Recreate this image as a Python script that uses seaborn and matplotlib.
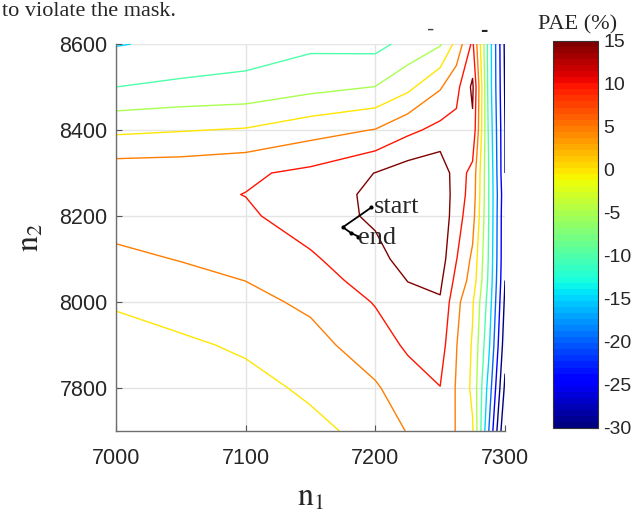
import matplotlib
matplotlib.use("Agg")
import matplotlib.pyplot as plt
import numpy as np
import seaborn as sns
from matplotlib.colors import Normalize
from matplotlib.cm import ScalarMappable

# grid of the PAE map
n1_grid = [7000, 7050, 7100, 7150, 7200, 7225, 7250, 7262.5, 7275, 7287.5, 7300]
n2_grid = [7700, 7800, 7900, 8000, 8050, 8100, 8200, 8250, 8300, 8400, 8500, 8600]

# PAE (%) values, one row per n2, one column per n1
pae = [
    [-3.5, -3.0, -2.5, -1.2, 1.5, 5.3, 7.5, 4.8, 0.5, -20, -40],
    [-2.5, -2.0, -1.5, 0.8, 4.4, 7.8, 9.9, 4.6, -1.0, -17, -36],
    [-1.5, -0.8, 0.7, 3.2, 7.8, 10.7, 12.3, 5.2, -0.5, -14, -33],
    [0.4, 2.1, 3.5, 6.0, 10.3, 13.5, 14.5, 6.5, 0.5, -12, -31],
    [2.2, 3.6, 5.05, 7.8, 12.0, 15.1, 16.0, 8.5, 3.0, -11, -30],
    [3.9, 5.2, 6.8, 9.3, 13.5, 16.8, 17.5, 10.2, 4.0, -10.5, -29.5],
    [7.0, 8.2, 9.2, 12.5, 15.8, 18.5, 19.0, 12.0, 7.0, -10, -29.5],
    [7.8, 8.8, 10.1, 12.5, 16.0, 18.5, 19.0, 12.5, 8.0, -10, -29],
    [8.0, 8.2, 9.2, 11.2, 15.1, 17.5, 18.5, 12.5, 8.5, -10, -30],
    [-1.0, -0.3, 0.4, 3.0, 5.2, 8.8, 11.5, 11.5, 14.0, -11, -30],
    [-10, -9.0, -8.5, -6.5, -4.9, -1.3, 4.5, 8.5, 16.0, -12, -30.5],
    [-15.3, -14, -12.5, -11, -11.5, -8.5, -5.5, 1.5, 11.0, -12, -31],
]
levels = [-45, -40, -35, -30, -25, -20, -15, -10, -5, 0, 5, 10, 15]

# optimisation path from start to end
path_n1 = [7197, 7175, 7181, 7187]
path_n2 = [8220, 8174, 8161, 8152]

x_ticks = [7000, 7100, 7200, 7300]
y_ticks = [7800, 8000, 8200, 8400, 8600]
cbar_ticks = [-30, -25, -20, -15, -10, -5, 0, 5, 10, 15]

sns.set_theme(style="ticks")
plt.rcParams["font.family"] = ["Liberation Sans", "DejaVu Sans"]
plt.rcParams["mathtext.fontset"] = "stix"
plt.rcParams["axes.unicode_minus"] = False
serif = ["Liberation Serif", "DejaVu Serif"]

fig = plt.figure(figsize=(6.37, 5.19), dpi=100)
ax = fig.add_axes([116 / 637, 1 - 431 / 519, 389 / 637, 387 / 519])
cax = fig.add_axes([553 / 637, 1 - 428 / 519, 45 / 637, 387 / 519])

jet = plt.get_cmap("jet", 64)
norm = Normalize(vmin=-30, vmax=15)

ax.contour(n1_grid, n2_grid, np.array(pae), levels=levels, cmap=jet, norm=norm,
           linewidths=1.0)

sns.lineplot(x=path_n1, y=path_n2, sort=False, estimator=None, color="black",
             marker="o", markersize=3, markeredgewidth=0, linewidth=1.3, ax=ax)
ax.text(7199, 8206, "start", fontsize=19, family=serif, ha="left", va="baseline")
ax.text(7187, 8134, "end", fontsize=19, family=serif, ha="left", va="baseline")

ax.set_xlim(7000, 7300)
ax.set_ylim(7700, 8600)
ax.set_xticks(x_ticks)
ax.set_yticks(y_ticks)
ax.grid(True, color="#e4e4e4", linewidth=1.0)
ax.set_axisbelow(True)
for side in ["top", "right"]:
    ax.spines[side].set_visible(False)
for side in ["left", "bottom"]:
    ax.spines[side].set_color("#6e6e6e")
    ax.spines[side].set_linewidth(1.0)
ax.tick_params(direction="in", length=4, width=0.8, color="#555555",
               labelsize=15.5, labelcolor="#262626")
ax.tick_params(axis="x", pad=12)
ax.tick_params(axis="y", pad=6)
ax.set_xlabel(r"$\mathrm{n}_1$", fontsize=23, labelpad=10)
ax.set_ylabel(r"$\mathrm{n}_2$", fontsize=23, labelpad=10)

sm = ScalarMappable(norm=norm, cmap=jet)
cb = fig.colorbar(sm, cax=cax, ticks=cbar_ticks)
cb.outline.set_edgecolor("#333333")
cb.outline.set_linewidth(0.8)
cax.tick_params(direction="in", length=4, width=0.8, color="#333333",
                labelsize=14, labelcolor="#262626", pad=4)

fig.text(578 / 637, 1 - 29 / 519, "PAE (%)", fontsize=16, family=serif,
         ha="center", va="baseline")
fig.text(2 / 637, 1 - 16 / 519, "to violate the mask.", fontsize=16,
         family=serif, ha="left", va="baseline")
fig.text(431 / 637, 1 - 36 / 519, "-", fontsize=16, color="#444444",
         ha="center", va="baseline")
fig.text(484 / 637, 1 - 36 / 519, "-", fontsize=16, fontweight="bold",
         ha="center", va="baseline")

fig.savefig("out.png", dpi=100)
